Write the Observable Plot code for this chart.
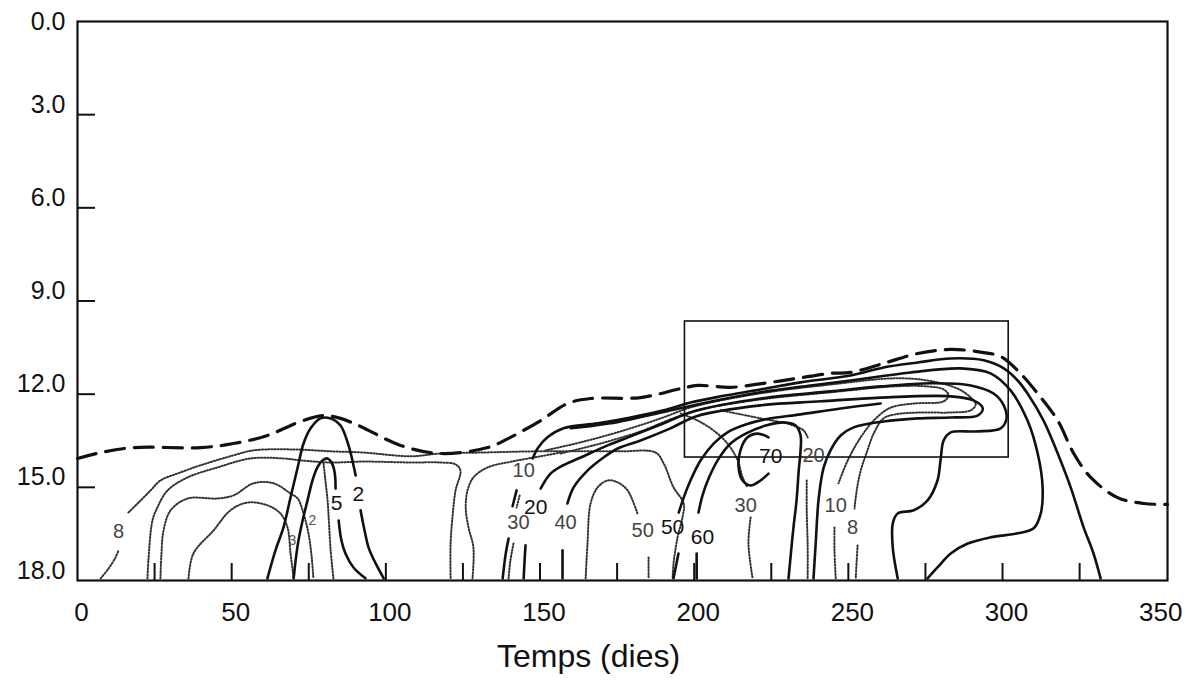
<!DOCTYPE html>
<html><head><meta charset="utf-8">
<script src="https://cdn.jsdelivr.net/npm/d3@7"></script>
<script src="https://cdn.jsdelivr.net/npm/@observablehq/plot@0.6"></script>
<style>body{margin:0;background:#fff} #chart{width:1195px;height:697px}</style>
</head><body><div id="chart"></div>
<script>
// ---- axis values ----
const xTickLabels = [0, 50, 100, 150, 200, 250, 300, 350];
const xMinorTicks = [25, 50, 75, 100, 125, 150, 175, 200, 225, 250, 275, 300, 325];
const yTopLabel = [0];
const yTickLabels = [3, 6, 9, 12, 15, 18];
const yTicks = [3, 6, 9, 12, 15];
const xTitle = "Temps (dies)";

// inset box (days, depth)
const insetDays = [197, 302];
const insetDepths = [9.66, 14.04];

// ---- contour lines, [day, depth] ----
const dashedTop = [[0,14.07],[7.5,13.88],[18.2,13.72],[39.9,13.72],[50.6,13.59],[61.6,13.33],[72.3,12.88],[79.8,12.69],[85.3,12.78],[91.8,13.04],[104.8,13.65],[117.7,13.91],[133,13.72],[140.4,13.39],[150.2,12.85],[158.9,12.3],[166.4,12.14],[182.6,12.11],[195.6,11.82],[201.1,11.72],[211.8,11.78],[222.5,11.65],[233.5,11.49],[244.2,11.33],[250.7,11.3],[261.4,11.01],[272.5,10.69],[283.2,10.56],[293.9,10.66],[299.4,10.79],[304.9,11.24],[311.4,11.98],[317.9,12.85],[323.1,13.91],[328.6,14.68],[337.3,15.33],[345.8,15.52],[353.5,15.55]];

const dotted8LeftA = [[7.5,17.93],[10.1,17.61],[12.3,17.26],[13.3,17.03]];
const dotted8LeftB = [[16.5,15.81],[19.5,15.52],[23.7,15.1],[26.9,14.78],[33.4,14.52],[39.9,14.29],[50.6,13.97],[57.1,13.81],[70.1,13.78],[82.1,13.84],[92.8,13.88],[108,14.0],[117.7,13.91],[130.7,13.88],[149.2,13.84],[163.2,13.84],[176.1,13.84],[187.5,13.88],[190.1,14.23],[193.3,15.0],[196.6,15.52],[196.2,15.97],[194.6,16.61],[193.3,17.45],[193,17.93]];
const dottedL2 = [[22.7,17.93],[23,17.35],[24.3,16.07],[25.9,15.65],[29.2,15.1],[35.7,14.68],[45.4,14.36],[56.1,14.07],[66.8,14.07],[72.3,14.13],[82.1,14.2],[92.8,14.17],[108,14.2],[117.7,14.2],[122.6,14.26],[124.2,14.46],[122.6,15.1],[121.6,15.97],[121,16.81],[121,17.93]];
const dottedL3 = [[26.9,17.93],[27.2,17.19],[27.9,16.39],[30.2,15.74],[35.7,15.36],[45.4,15.36],[50.6,15.26],[57.1,14.87],[63.6,14.87],[69.1,15.2],[71.4,15.36],[73,15.74],[74.9,16.48],[75.9,17.19],[76.5,17.93]];
const dottedL4 = [[36,17.93],[37.6,17.13],[44.1,16.39],[49.6,15.74],[55.1,15.49],[61.6,15.58],[65.8,15.84],[68.1,16.29],[69.1,17.13],[70.1,17.93]];
const dotted5In = [[79.8,14.23],[80.4,14.78],[81.1,15.42],[82.1,17.03],[83,17.93]];

const solid2A = [[61.6,17.93],[64.2,17.03],[66.8,16.29],[69.1,15.32],[71.4,14.36],[73.3,13.59],[75.6,13.1],[78.8,12.78],[82.1,12.78],[85.3,13.01],[87.9,13.65],[89.5,14.29],[90.2,14.62]];
const solid2B = [[91.8,15.74],[93.1,16.39],[94.4,16.94],[96.7,17.45],[99.3,17.93]];
const solid5A = [[70.1,17.93],[71.4,16.87],[73,16.07],[74.6,15.42],[76.2,14.78],[77.8,14.36],[79.5,14.13],[81.1,14.07],[82.4,14.2],[83.4,14.52],[83.7,15.04]];
const solid5B = [[84.7,16.07],[85.6,16.71],[86.9,17.13],[89.5,17.58],[93.4,17.93]];

const solid10C = [[137.9,17.93],[138.8,17.19],[139.8,16.65]];
const solid10B = [[141.1,15.61],[142.4,15.1]];
const solid10Outer = [[147.6,14.07],[149.2,13.75],[152.4,13.39],[157.6,13.1],[168.7,12.94],[179.4,12.75],[190.1,12.52],[198.8,12.27],[208.6,12.07],[221.5,11.85],[234.5,11.62],[250.7,11.4],[261.4,11.14],[272.5,10.98],[283.2,10.85],[293.9,10.91],[300.4,11.17],[304.9,11.56],[308.1,11.98],[313.3,12.85],[317.9,13.91],[322.1,15.0],[326.3,16.29],[329.5,17.13],[331.8,17.93]];
const dotted30MB = [[143.4,15.26],[142.4,15.65]];
const dotted30MC = [[141.4,16.81],[140.4,17.35],[139.8,17.93]];
// "20" contour: rises from its label into the bundle, then forms the stepped loop on the right
const solid20Step = [[150.2,15.04],[153.4,14.56],[156.7,14.33],[163.2,14.04],[171.9,13.65],[179.4,13.36],[189.1,12.98],[200,12.55],[221.5,12.14],[244.2,11.91],[260.5,11.75],[276.7,11.65],[289.7,11.72],[297.1,11.98],[300.4,12.36],[301.3,12.78],[299.4,13.1],[291.3,13.2],[283.2,13.23],[280.9,13.49],[279.9,14.13],[278.9,14.78],[275.7,15.42],[271.2,15.74],[266,15.84],[264.4,16.16],[264.4,16.94],[266,17.93]];
const solid20B = [[145.3,16.87],[145,17.35],[144.7,17.93]];
// "40" contour: rises into the bundle, inner hairpin, then down to the bottom
const solid40Hairpin = [[158.9,15.52],[160.9,15.0],[165.4,14.46],[170.6,14.04],[175.2,13.75],[182.6,13.49],[192.3,13.1],[201,12.7],[221.5,12.36],[241,12.23],[260.5,12.11],[283.2,12.07],[290.6,12.2],[293.6,12.46],[291.9,12.69],[283.2,12.75],[272.5,12.78],[261.4,12.88],[251.7,13.07],[247.5,13.33],[244.2,13.81],[242,14.36],[240.4,15.33],[239.4,16.81],[238.7,17.93]];
const solid40B = [[157.3,17.03],[157.3,17.93]];
const dotted50A = [[164.8,17.93],[165.4,16.81],[166.4,15.52],[168.7,15.0],[171.9,14.78],[175.2,14.84],[178.4,15.1],[181.6,15.84]];
const dotted50B = [[185.2,17.26],[185.2,17.93]];
const dottedM2 = [[156.7,13.88],[150.2,14.0],[141.4,14.16],[133,14.36],[128.4,14.68],[126.5,15.1],[125.9,15.65],[126.8,16.29],[128.4,16.94],[128.1,17.93]];

const solid50A = [[195,15.81],[196.6,15.33],[198.8,14.78],[202.1,14.13],[206.3,13.59],[210.8,13.23],[216.7,12.98],[223.2,12.81],[234.5,12.65],[247.5,12.46],[260.5,12.3]];
const solid50B = [[194.9,17.13],[193.3,17.93]];
const solid60A = [[201.4,15.81],[202.7,15.26],[204.7,14.71],[207.6,14.13],[211.8,13.59],[216.7,13.27],[223.2,13.01],[229.6,12.91],[232.9,13.01],[234.5,13.33],[234.5,13.81],[233.9,14.46],[233.2,15.42],[232.2,16.29],[231.3,17.19],[230.6,17.93]];
const solid60B = [[200.8,17.13],[200.8,17.93]];
const solid70 = [[224.1,13.39],[220.6,13.27],[217.3,13.39],[215,13.81],[214.4,14.36],[215.7,14.78],[218.3,14.94],[221.5,14.78],[224.1,14.56]];
const dotted30RA = [[195.6,12.62],[201.1,12.85],[206.3,13.17],[210.8,13.59],[214.1,14.13],[215.7,14.68],[217.3,15.0]];
const dotted30RB = [[218.3,15.97],[217.6,16.81],[218.9,17.9]];
const dotted20RA = [[208.6,12.52],[221.5,12.78],[231.3,12.98],[235.5,13.17],[236.8,13.39]];
const dotted20RB = [[236.5,14.78],[236.5,15.74],[236.8,16.87],[236.8,17.93]];

const solidLoop = [[160,13.1],[175,12.9],[188,12.62],[198.8,12.38],[221.5,11.94],[237.8,11.72],[250.7,11.56],[270.2,11.3],[286.4,11.17],[296.1,11.33],[302.6,11.88],[308.1,12.85],[311.4,13.91],[313,15.0],[312.4,15.84],[310.1,16.32],[304.9,16.48],[296.1,16.61],[288.7,16.81],[283.2,17.13],[278.9,17.58],[275.7,17.93]];
const dottedOut = [[151.8,13.81],[163.2,13.55],[176.1,13.2],[189.1,12.78],[198.8,12.43],[211.8,12.14],[228,11.88],[244.2,11.69],[264.7,11.49],[275.7,11.56],[285.4,11.82],[289.7,12.11],[291.3,12.33],[289.7,12.52],[283.2,12.59],[273.4,12.59],[265.3,12.65],[261.4,12.78],[258.2,13.27],[256.2,13.81],[254,14.46],[252.7,15.1],[252,15.68]];
const dottedOutLow = [[253,16.87],[252.7,17.35],[252.4,17.93]];
const dottedIn = [[156.7,13.91],[169.6,13.59],[182.6,13.2],[193.9,12.75],[202.1,12.49],[221.5,12.17],[244.2,11.94],[264.7,11.75],[275.7,11.75],[280.9,11.85],[282.5,12.04],[280.9,12.23],[271.2,12.3],[264.7,12.4],[262.1,12.52],[258.2,12.85],[254,13.39],[249.8,14.13],[246.8,14.87]];
const dottedInLow = [[245.5,16.29],[245.5,17.03],[245.9,17.93]];

// contour labels [text, day, depth]
const solidLabels = [["2",91.1,15.23],["5",84,15.52],["20",148.6,15.65],["50",193,16.29],["60",202.7,16.61],["70",224.8,14.0]];
const dottedLabels = [["8",13.3,16.42],["10",144.7,14.46],["30",143,16.13],["40",158.3,16.13],["50",183.3,16.39],["30",216.7,15.58],["20",238.7,13.97],["10",245.9,15.58],["8",251.4,16.29]];
const smallLabels = [["3",69.7,16.71],["2",76.2,16.07]];

const curves = [
  ["dashed", dashedTop],
  ["dotted", dotted8LeftA], ["dotted", dotted8LeftB], ["dotted", dottedL2], ["dotted", dottedL3], ["dotted", dottedL4], ["dotted", dotted5In],
  ["solid", solid2A], ["solid", solid2B], ["solid", solid5A], ["solid", solid5B],
  ["solid", solid10C], ["solid", solid10B], ["solid", solid10Outer],
  ["dotted", dotted30MB], ["dotted", dotted30MC],
  ["solid", solid20Step], ["solid", solid20B], ["solid", solid40Hairpin], ["solid", solid40B],
  ["dotted", dotted50A], ["dotted", dotted50B], ["dotted", dottedM2],
  ["solid", solid50A], ["solid", solid50B], ["solid", solid60A], ["solid", solid60B], ["solid", solid70],
  ["dotted", dotted30RA], ["dotted", dotted30RB], ["dotted", dotted20RA], ["dotted", dotted20RB],
  ["solid", solidLoop],
  ["dotted", dottedOut], ["dotted", dottedOutLow], ["dotted", dottedIn], ["dotted", dottedInLow]
];
const rows = curves.flatMap(([style, pts], id) => pts.map(([x, y]) => ({id, style, x, y})));
const toLab = (arr) => arr.map(([text, x, y]) => ({text, x, y}));

const font = "'Liberation Sans', Arial, Helvetica, sans-serif";
const chart = Plot.plot({
  width: 1195, height: 697,
  marginLeft: 77, marginRight: 28, marginTop: 21, marginBottom: 117,
  x: {domain: [0, 353.5], axis: null},
  y: {domain: [0, 18], reverse: true, axis: null},
  style: {fontFamily: font, background: "white", color: "black", overflow: "visible"},
  marks: [
    Plot.line(rows.filter(d => d.style === "dotted"), {x: "x", y: "y", z: "id", stroke: "#333", strokeWidth: 2, strokeDasharray: "1.2,1.9", curve: "catmull-rom"}),
    Plot.line(rows.filter(d => d.style === "solid"), {x: "x", y: "y", z: "id", stroke: "#111", strokeWidth: 2.6, curve: "catmull-rom"}),
    Plot.line(rows.filter(d => d.style === "dashed"), {x: "x", y: "y", z: "id", stroke: "#111", strokeWidth: 3.2, strokeDasharray: "19,10", curve: "catmull-rom"}),
    Plot.rect([{x1: insetDays[0], x2: insetDays[1], y1: insetDepths[0], y2: insetDepths[1]}], {x1: "x1", x2: "x2", y1: "y1", y2: "y2", fill: "none", stroke: "#111", strokeWidth: 1.6}),
    Plot.text(toLab(solidLabels), {x: "x", y: "y", text: "text", fontSize: 21, fill: "#111"}),
    Plot.text(toLab(dottedLabels), {x: "x", y: "y", text: "text", fontSize: 20, fill: "#444"}),
    Plot.text(toLab(smallLabels), {x: "x", y: "y", text: "text", fontSize: 14, fill: "#555"}),
    Plot.tickX(xMinorTicks, {x: d => d, insetTop: 542, stroke: "#111", strokeWidth: 2}),
    Plot.tickY(yTicks, {y: d => d, insetRight: 1072, stroke: "#111", strokeWidth: 2}),
    Plot.frame({stroke: "#111", strokeWidth: 2.2}),
    Plot.text(xTickLabels, {x: d => d, text: d => String(d), frameAnchor: "bottom", lineAnchor: "top", dy: 22, dx: 4, fontSize: 26, fill: "#111"}),
    Plot.text(yTopLabel, {y: d => d, text: d => d.toFixed(1), frameAnchor: "left", textAnchor: "end", dx: -12, dy: 0, fontSize: 25, fill: "#111"}),
    Plot.text(yTickLabels, {y: d => d, text: d => d.toFixed(1), frameAnchor: "left", textAnchor: "end", dx: -12, dy: -10, fontSize: 25, fill: "#111"}),
    Plot.text([xTitle], {text: d => d, frameAnchor: "bottom", lineAnchor: "top", dy: 64, dx: -34, fontSize: 32, fill: "#111"})
  ]
});
document.getElementById("chart").appendChild(chart);
</script></body></html>
